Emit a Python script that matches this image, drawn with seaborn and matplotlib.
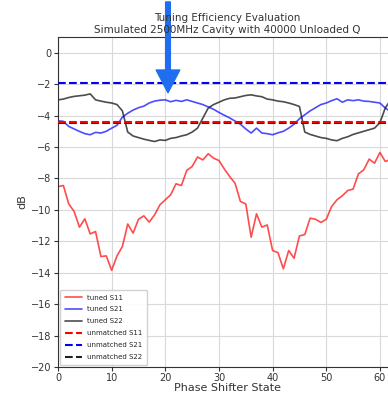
import numpy as np
import pandas as pd
import matplotlib
matplotlib.use("Agg")
import matplotlib.pyplot as plt
import seaborn as sns

# Phase shifter states and measured S-parameters (dB)
states = list(range(64))

tuned_s11 = [-8.52, -8.45, -9.62, -10.1, -11.1, -10.57, -11.53, -11.38, -12.97, -12.93,
             -13.85, -12.93, -12.33, -10.9, -11.48, -10.6, -10.38, -10.78, -10.32, -9.68,
             -9.36, -9.04, -8.34, -8.45, -7.49, -7.24, -6.64, -6.82, -6.43, -6.71,
             -6.86, -7.4, -7.88, -8.3, -9.47, -9.62, -11.74, -10.25, -11.1, -10.96,
             -12.59, -12.72, -13.75, -12.59, -13.08, -11.66, -11.57, -10.53, -10.6, -10.8,
             -10.6, -9.79, -9.36, -9.1, -8.77, -8.68, -7.71, -7.45, -6.77, -7.03,
             -6.35, -6.92, -6.8, -6.6]

tuned_s21 = [-4.33, -4.37, -4.69, -4.85, -5.01, -5.15, -5.22, -5.07, -5.11, -5.0,
             -4.8, -4.62, -4.1, -3.85, -3.65, -3.5, -3.4, -3.2, -3.08, -3.02,
             -3.0, -3.12, -3.03, -3.1, -3.0, -3.1, -3.2, -3.3, -3.45, -3.6,
             -3.8, -3.98, -4.15, -4.35, -4.55, -4.85, -5.11, -4.8, -5.11, -5.15,
             -5.22, -5.1, -5.0, -4.8, -4.55, -4.2, -3.95, -3.7, -3.5, -3.3,
             -3.2, -3.05, -2.93, -3.15, -3.0, -3.05, -3.0, -3.08, -3.1, -3.15,
             -3.2, -3.52, -3.75, -3.9]

tuned_s22 = [-3.0, -2.95, -2.85, -2.78, -2.74, -2.7, -2.62, -3.0, -3.08, -3.15,
             -3.2, -3.3, -3.7, -5.05, -5.3, -5.4, -5.5, -5.58, -5.65, -5.55,
             -5.58, -5.45, -5.4, -5.3, -5.22, -5.05, -4.8, -4.16, -3.52, -3.3,
             -3.15, -3.0, -2.9, -2.88, -2.8, -2.72, -2.68, -2.75, -2.8, -2.95,
             -3.0, -3.08, -3.12, -3.2, -3.3, -3.42, -5.05, -5.2, -5.3, -5.4,
             -5.45, -5.55, -5.6, -5.45, -5.35, -5.2, -5.1, -5.0, -4.9, -4.8,
             -4.45, -3.52, -3.0, -2.9]

unmatched_s11 = -4.42
unmatched_s21 = -1.93
unmatched_s22 = -4.48

x_ticks = [0, 10, 20, 30, 40, 50, 60]
y_ticks = [0, -2, -4, -6, -8, -10, -12, -14, -16, -18, -20]

df = pd.DataFrame({"state": states, "s11": tuned_s11, "s21": tuned_s21, "s22": tuned_s22})

sns.set_style("whitegrid", {
    "axes.edgecolor": "#333333",
    "grid.color": "#d9d9d9",
    "axes.linewidth": 1.0,
})
plt.rcParams["font.family"] = ["DejaVu Sans"]

fig = plt.figure(figsize=(3.88, 3.94), dpi=100)
ax = fig.add_axes([58 / 388, 27 / 394, 338 / 388, 330 / 394])

sns.lineplot(data=df, x="state", y="s11", ax=ax, color="#ff2020", alpha=0.8, lw=1.2, label="tuned S11")
sns.lineplot(data=df, x="state", y="s21", ax=ax, color="#2020ff", alpha=0.8, lw=1.2, label="tuned S21")
sns.lineplot(data=df, x="state", y="s22", ax=ax, color="#202020", alpha=0.8, lw=1.2, label="tuned S22")

ax.axhline(unmatched_s22, color="#202020", ls="--", lw=1.5, label="_nolegend_", zorder=2)
ax.axhline(unmatched_s11, color="red", ls="--", lw=1.5, label="unmatched S11", zorder=3)
ax.axhline(unmatched_s21, color="blue", ls="--", lw=1.5, label="unmatched S21", zorder=3)
ax.plot([], [], color="#202020", ls="--", lw=1.5, label="unmatched S22")

ax.set_xlim(0, 63)
ax.set_ylim(-20, 1)
ax.set_xticks(x_ticks)
ax.set_yticks(y_ticks)
ax.tick_params(axis="y", labelsize=7, colors="#333333", length=3, width=0.8, pad=2, left=True)
ax.tick_params(axis="x", labelsize=7, colors="#333333", length=3, width=0.8, pad=1, bottom=True)
ax.set_xlabel("Phase Shifter State", fontsize=8, color="#333333", labelpad=0)
ax.set_ylabel("dB", fontsize=8, color="#333333", labelpad=2)
ax.set_title("Tuning Efficiency Evaluation\nSimulated 2500MHz Cavity with 40000 Unloaded Q",
             fontsize=7.5, color="#333333", pad=3, linespacing=1.25)
for side in ("left", "bottom", "top", "right"):
    ax.spines[side].set_color("#333333")

leg = ax.legend(loc="lower left", fontsize=5, frameon=True, framealpha=0.9,
                edgecolor="#cccccc", borderaxespad=0.3, borderpad=0.7,
                handlelength=2.4, labelspacing=0.85)

# Pointer arrow marking the S21 peak region
ax.annotate("", xy=(20.5, -2.55), xycoords="data",
            xytext=(20.5, 0.995), textcoords=("data", "figure fraction"),
            arrowprops=dict(arrowstyle="simple,head_length=0.82,head_width=0.85,tail_width=0.17",
                            color="#1f6ef0", shrinkA=0, shrinkB=0, mutation_scale=20),
            annotation_clip=False)

fig.savefig("out.png", dpi=100)
